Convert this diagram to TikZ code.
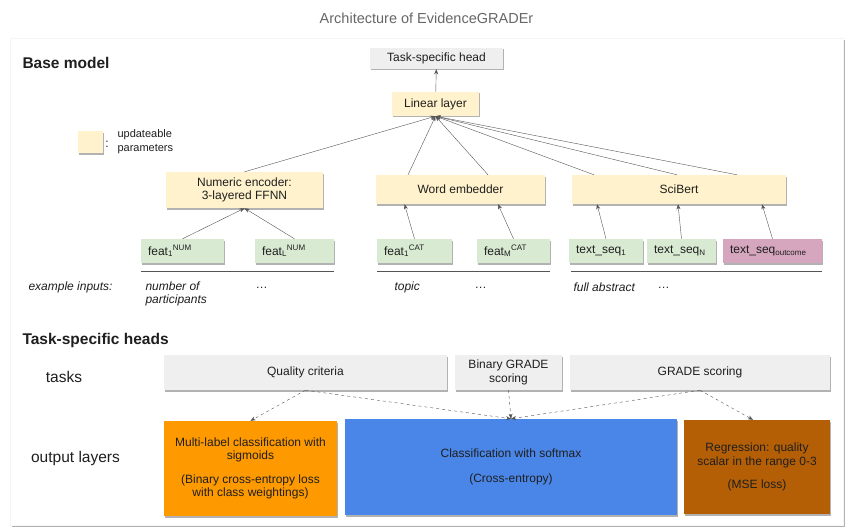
\documentclass[tikz,border=0pt]{standalone}
\usepackage{fontspec}
\setmainfont{Liberation Sans}
\usetikzlibrary{arrows.meta,shadows}
\definecolor{Ink}{HTML}{1F1F1F}
\definecolor{Title}{HTML}{666666}
\definecolor{Wire}{HTML}{555555}
\definecolor{Cream}{HTML}{FFF2CC}
\definecolor{Paper}{HTML}{EFEFEF}
\definecolor{Leaf}{HTML}{D9EAD3}
\definecolor{Mauve}{HTML}{D5A6BD}
\definecolor{Amber}{HTML}{FF9900}
\definecolor{Azure}{HTML}{4A86E8}
\definecolor{Rust}{HTML}{B45F06}

\begin{document}
\begin{tikzpicture}[x=1pt,y=-1pt,
    every node/.style={font=\fontsize{12}{13.5}\selectfont,text=Ink},
    box/.style={inner sep=2pt,align=center,drop shadow={shadow xshift=1.2pt,shadow yshift=-1.5pt,opacity=.3,fill=black}},
    upd/.style={box,fill=Cream},
    grey/.style={box,fill=Paper},
    inp/.style={box,fill=Leaf,text width=#1,align=left,inner xsep=7pt,minimum height=24pt},
    big/.style={font=\fontsize{15.5}{18}\selectfont},
    bigbold/.style={font=\fontsize{15.5}{18}\selectfont\bfseries},
    ex/.style={font=\fontsize{12}{13.5}\selectfont\itshape,align=left},
    arr/.style={-{Stealth[length=1.8mm,width=1.4mm]},Wire},
    dasharr/.style={arr,dashed}]
  \useasboundingbox (0,0) rectangle (853,532);
  \node[text=Title,font=\fontsize{14.5}{17}\selectfont] (title) at (426.5,18) {Architecture of EvidenceGRADEr};
  \path[draw=gray!8,fill=white,drop shadow={shadow xshift=1.5pt,shadow yshift=-2pt,opacity=.3,fill=black}] (10,38) rectangle (843,525);

  % base model
  \node[bigbold,anchor=west] (basetitle) at (19,63) {Base model};
  \node[grey,minimum width=133pt,minimum height=21pt] (head) at (436.5,58.5) {Task-specific head};
  \node[upd,minimum width=87pt,minimum height=24pt] (linear) at (435.5,104) {Linear layer};
  \node[upd,minimum width=25pt,minimum height=22pt] (legend) at (90.5,142) {};
  \node (colon) at (107,144) {:};
  \node[anchor=west,align=left,font=\fontsize{11}{14}\selectfont] (legendtext) at (114,142) {updateable\\parameters};
  \node[upd,minimum width=157pt,minimum height=36pt] (numenc) at (244.5,190) {Numeric encoder:\\3-layered FFNN};
  \node[upd,minimum width=169pt,minimum height=29pt] (wordemb) at (460.5,189.5) {Word embedder};
  \node[upd,minimum width=214pt,minimum height=29pt] (scibert) at (679,189.5) {SciBert};

  \node[inp=69pt] (featnum1) at (182.5,251) {feat\textsubscript{1}\textsuperscript{NUM}};
  \node[inp=65pt] (featnuml) at (294.5,251) {feat\textsubscript{L}\textsuperscript{NUM}};
  \node[inp=61pt] (featcat1) at (414.5,251) {feat\textsubscript{1}\textsuperscript{CAT}};
  \node[inp=59pt] (featcatm) at (513.5,251) {feat\textsubscript{M}\textsuperscript{CAT}};
  \node[inp=60pt] (seq1) at (606,251) {text\_seq\textsubscript{1}};
  \node[inp=55pt] (seqn) at (681.5,251) {text\_seq\textsubscript{N}};
  \node[inp=85pt,fill=Mauve] (seqout) at (772.5,251) {text\_seq\textsubscript{outcome}};
  \draw[Wire] ([yshift=-8pt]featnum1.south west) -- ([yshift=-8pt]featnuml.south east);
  \draw[Wire] ([yshift=-8pt]featcat1.south west) -- ([yshift=-8pt]featcatm.south east);
  \draw[Wire] ([yshift=-8pt,xshift=2pt]seq1.south west) -- ([yshift=-8pt]seqout.south east);

  \node[ex,anchor=west] (exlabel) at (25,287) {example inputs:};
  \node[ex,anchor=west] (exnum) at (142,294) {number of\\participants};
  \node[ex] (exdots1) at (262,288) {…};
  \node[ex,anchor=west] (extopic) at (391,287) {topic};
  \node[ex] (exdots2) at (481,288) {…};
  \node[ex,anchor=west] (exabstract) at (570,287) {full abstract};
  \node[ex] (exdots3) at (664,288) {…};

  \draw[arr] (linear) -- (head);
  \draw[arr] (numenc.north) -- (linear.south);
  \foreach \dx in {-52.5,27.5} \draw[arr] ([xshift=\dx pt]wordemb.north) -- (linear.south);
  \foreach \dx in {-85,-2,58} \draw[arr] ([xshift=\dx pt]scibert.north) -- (linear.south);
  \draw[arr] (featnum1.north) -- (numenc.south);
  \draw[arr] (featnuml.north) -- (numenc.south);
  \draw[arr] (featcat1.north) -- ([xshift=-56pt]wordemb.south);
  \draw[arr] (featcatm.north) -- ([xshift=37.5pt]wordemb.south);
  \draw[arr] (seq1.north) -- ([xshift=-82pt]scibert.south);
  \draw[arr] (seqn.north) -- ([xshift=-1pt]scibert.south);
  \draw[arr] (seqout.north) -- ([xshift=83pt]scibert.south);

  % task-specific heads
  \node[bigbold,anchor=west] (headstitle) at (19,340) {Task-specific heads};
  \node[big] (tasks) at (64,377) {tasks};
  \node[big] (outlayers) at (75.5,458) {output layers};
  \node[grey,minimum width=283pt,minimum height=35pt] (quality) at (305.5,372.5) {Quality criteria};
  \node[grey,minimum width=107pt,minimum height=35pt] (binary) at (508.5,372.5) {Binary GRADE\\scoring};
  \node[grey,minimum width=260pt,minimum height=35pt] (grade) at (700,372.5) {GRADE scoring};
  \node[box,fill=Amber,minimum width=173pt,minimum height=95pt] (multilabel) at (250.5,468.5) {Multi-label classification with\\sigmoids\\[10pt](Binary cross-entropy loss\\with class weightings)};
  \node[box,fill=Azure,minimum width=332pt,minimum height=96pt] (softmax) at (511,467) {Classification with softmax\\[12pt](Cross-entropy)};
  \node[box,fill=Rust,minimum width=146pt,minimum height=94pt] (regress) at (757,467) {Regression: quality\\scalar in the range 0-3\\[10pt](MSE loss)};
  \draw[dasharr] (quality.south) -- (multilabel.north);
  \draw[dasharr] (quality.south) -- (softmax.north);
  \draw[dasharr] (binary.south) -- (softmax.north);
  \draw[dasharr] (grade.south) -- (softmax.north);
  \draw[dasharr] (grade.south) -- ([xshift=-4pt]regress.north);
\end{tikzpicture}
\end{document}
